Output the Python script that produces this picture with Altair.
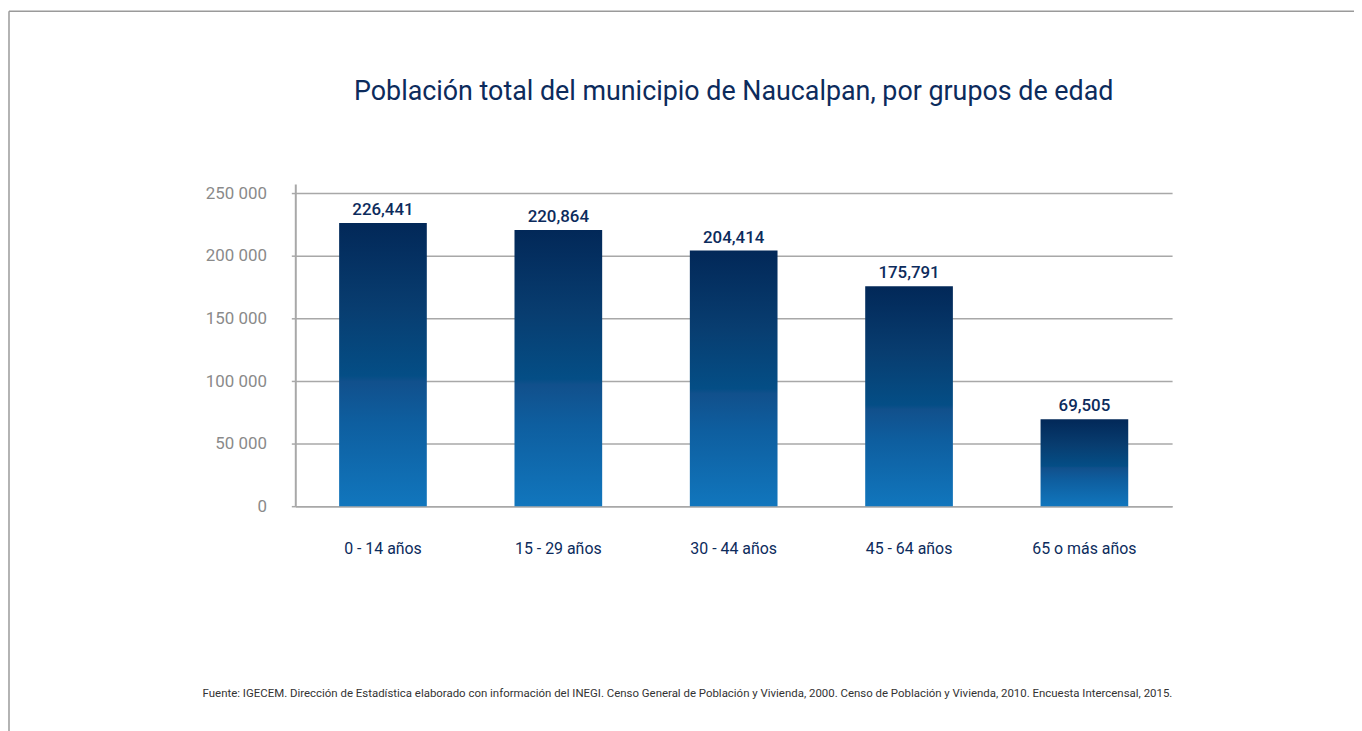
import altair as alt
import pandas as pd

categories = ["0 - 14 años", "15 - 29 años", "30 - 44 años", "45 - 64 años", "65 o más años"]
values = [226441, 220864, 204414, 175791, 69505]
y_ticks = [0, 50000, 100000, 150000, 200000, 250000]

title_text = "Población total del municipio de Naucalpan, por grupos de edad"
source_text = ("Fuente: IGECEM. Dirección de Estadística elaborado con información del INEGI. "
               "Censo General de Población y Vivienda, 2000. Censo de Población y Vivienda, 2010. "
               "Encuesta Intercensal, 2015.")

df = pd.DataFrame({"grupo": categories, "poblacion": values})
title_df = pd.DataFrame({"t": [title_text]})

FONT = "Roboto, Liberation Sans, sans-serif"
NAVY = "#0c2b5c"
GRID = "#a8a8a8"

gradient = alt.Gradient(
    gradient="linear",
    x1=0, x2=0, y1=1, y2=0,
    stops=[
        alt.GradientStop(color="#1176bd", offset=0),
        alt.GradientStop(color="#0e5e9f", offset=0.3),
        alt.GradientStop(color="#11508c", offset=0.44),
        alt.GradientStop(color="#044e86", offset=0.46),
        alt.GradientStop(color="#083d70", offset=0.7),
        alt.GradientStop(color="#022858", offset=1),
    ],
)

x_enc = alt.X(
    "grupo:N",
    sort=categories,
    scale=alt.Scale(paddingInner=0.5, paddingOuter=0.25),
    axis=alt.Axis(
        title=source_text,
        titleFont=FONT,
        titleFontSize=11.5,
        titleFontWeight="normal",
        titleColor="#333333",
        titlePadding=131,
        titleX=394,
        labelAngle=0,
        labelFont=FONT,
        labelFontSize=16,
        labelColor=NAVY,
        labelPadding=35,
        ticks=False,
        domainColor=GRID,
        domainWidth=1.5,
    ),
)

y_enc = alt.Y(
    "poblacion:Q",
    scale=alt.Scale(domain=[0, 257500], nice=False),
    axis=alt.Axis(
        title=None,
        values=y_ticks,
        labelExpr="datum.value == 0 ? '0' : format(datum.value / 1000, 'd') + ' 000'",
        labelFont=FONT,
        labelFontSize=17,
        labelColor="#8a8a8a",
        labelPadding=25,
        tickSize=4,
        tickColor=GRID,
        tickWidth=1.5,
        gridColor=GRID,
        gridWidth=1.5,
        domainColor=GRID,
        domainWidth=2,
    ),
)

bars = alt.Chart(df).mark_bar(color=gradient).encode(x=x_enc, y=y_enc)

labels = alt.Chart(df).mark_text(
    font=FONT, fontSize=17, fontWeight=500, color=NAVY, dy=-8, baseline="alphabetic"
).encode(
    x=alt.X("grupo:N", sort=categories),
    y="poblacion:Q",
    text=alt.Text("poblacion:Q", format=","),
)

title_mark = alt.Chart(title_df).mark_text(
    font=FONT, fontSize=27, color=NAVY, baseline="alphabetic", align="center"
).encode(x=alt.value(441), y=alt.value(-85), text="t:N")

frame_left = alt.Chart(title_df).mark_rule(color="#9a9a9a", strokeWidth=1.5).encode(
    x=alt.value(-288), y=alt.value(-174), y2=alt.value(560)
)
frame_top = alt.Chart(title_df).mark_rule(color="#9a9a9a", strokeWidth=1.5).encode(
    x=alt.value(-288), x2=alt.value(1080), y=alt.value(-174)
)

chart = alt.layer(frame_left, frame_top, title_mark, bars, labels).properties(
    width=882,
    height=324,
    autosize=alt.AutoSizeParams(type="none"),
    padding={"left": 289, "top": 175, "right": 183, "bottom": 224},
).configure_view(stroke=None).configure_axis(grid=True).configure_axisX(grid=False)

chart.save("out.html", embed_options={"renderer": "svg", "actions": False})
